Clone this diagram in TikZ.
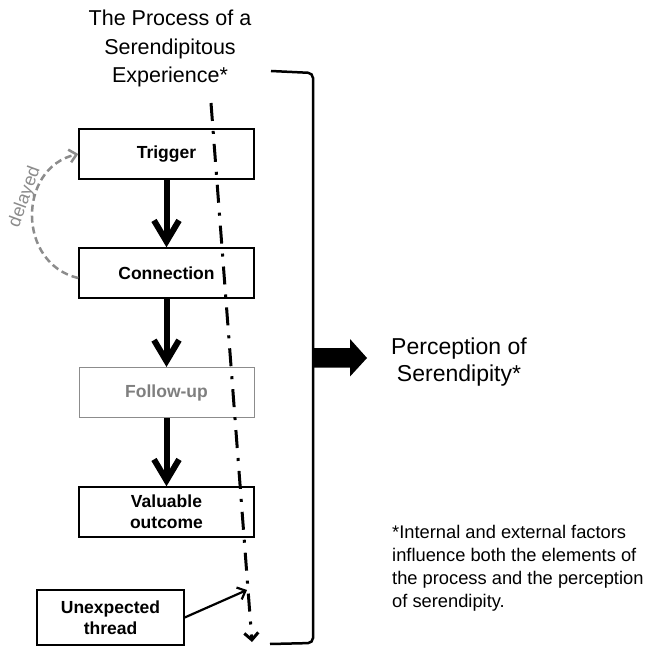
\documentclass[tikz,border=0pt]{standalone}
\usepackage{fontspec}
\setmainfont{Liberation Sans}
\usetikzlibrary{arrows.meta}
\definecolor{fgray}{HTML}{7F7F7F}
\definecolor{dgray}{HTML}{8C8C8C}
\begin{document}
\begin{tikzpicture}[x=1pt,y=-1pt,
  box/.style={draw, line width=1.4pt, minimum width=175pt, minimum height=50pt,
    inner sep=0pt, align=center, font=\fontsize{17.5}{21}\selectfont\bfseries},
  flow/.style={line width=6pt, -{Straight Barb[length=21pt,width=25pt]}},
  bigtext/.style={inner sep=0pt, align=center},
  dashdot/.style={line width=3pt, dash pattern=on 18pt off 10pt on 3pt off 10pt,
    -{Straight Barb[length=7pt,width=14pt]}},
  delay/.style={dgray, line width=2.5pt, dash pattern=on 7pt off 4pt,
    -{Straight Barb[length=7pt,width=13pt]}},
  thin arrow/.style={line width=2.2pt, -{Straight Barb[length=7pt,width=13pt]}}]
\useasboundingbox (0,0) rectangle (648,647);
\fill[white] (0,0) rectangle (648,647);

% title
\node[bigtext, anchor=north, font=\fontsize{21.5}{28.5}\selectfont] (title) at (170,10)
  {The Process of a\\Serendipitous\\Experience*};

% boxes
\node[box] (trig) at (166.5,154) {Trigger};
\node[box] (conn) at (166.5,273) {Connection};
\node[box, draw=dgray, text=fgray, line width=1pt] (foll) at (166.5,392.5) {Follow-up};
\node[box] (valu) at (166.5,512) {Valuable\\outcome};
\node[box, minimum width=147pt, minimum height=55pt] (unex) at (110.5,617.5) {Unexpected\\thread};

% flow arrows
\draw[flow] (trig) -- (conn);
\draw[flow] (conn) -- (foll);
\draw[flow] (foll) -- (valu);

% delayed
\draw[delay] ([yshift=-5pt]conn.west) to[out=167, in=193, looseness=1.3] (trig.west);
\node[dgray, rotate=70, font=\fontsize{18}{20}\selectfont, inner sep=0pt] (dlab) at (25,197) {delayed};

% dash-dot timeline
\coordinate (dtop) at (211,103);
\coordinate (dbot) at (252,642);
\draw[dashdot] (dtop) -- (dbot);

% unexpected thread arrow
\coordinate (uhit) at (247,590);
\draw[thin arrow] (unex.east) -- (uhit);

% bracket
\draw[line width=2.5pt, rounded corners=5pt] (271,71) -- (313,73) -- (313,643) -- (270,644);

% big arrow
\coordinate (brk) at (313,358);
\coordinate (atip) at (367,358);
\fill (brk) ++(0,-10) -- ++(37,0) -- ++(0,-9) -- (atip) -- ++(-17,18.5) -- ++(0,-9) -- ++(-37,0) -- cycle;

% perception
\node[bigtext, anchor=north, font=\fontsize{23}{27}\selectfont] (perc) at (459,338)
  {Perception of\\Serendipity*};

% footnote
\node[inner sep=0pt, align=left, anchor=north west, font=\fontsize{18.3}{23}\selectfont] (foot) at (392,524.6)
  {*Internal and external factors\\influence both the elements of\\the process and the perception\\of serendipity.};
\end{tikzpicture}
\end{document}
